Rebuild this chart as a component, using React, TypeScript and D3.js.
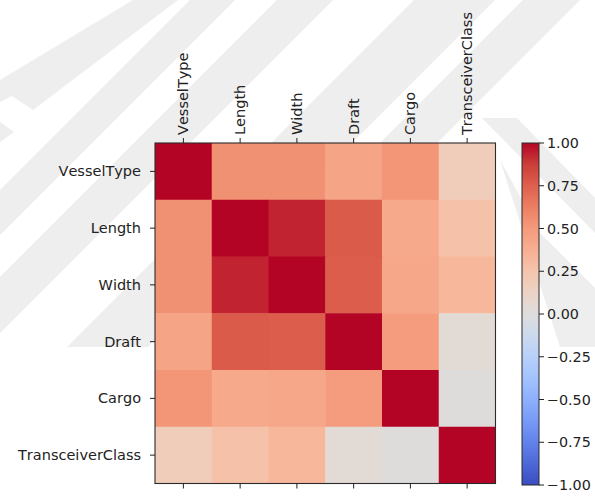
import React from "react";
import * as d3 from "d3";

// Correlation matrix of vessel attributes
const labels = ["VesselType", "Length", "Width", "Draft", "Cargo", "TransceiverClass"];

const rowVesselType = [1.0, 0.54, 0.54, 0.44, 0.52, 0.18];
const rowLength = [0.54, 1.0, 0.93, 0.77, 0.41, 0.27];
const rowWidth = [0.54, 0.93, 1.0, 0.76, 0.42, 0.33];
const rowDraft = [0.44, 0.77, 0.76, 1.0, 0.49, 0.04];
const rowCargo = [0.52, 0.41, 0.42, 0.49, 1.0, 0.01];
const rowTransceiverClass = [0.18, 0.27, 0.33, 0.04, 0.01, 1.0];

const matrix = [rowVesselType, rowLength, rowWidth, rowDraft, rowCargo, rowTransceiverClass];

const colorbarTicks = [1.0, 0.75, 0.5, 0.25, 0.0, -0.25, -0.5, -0.75, -1.0];

// coolwarm colormap anchors (position 0..1 -> rgb)
const coolwarmStops = [0, 0.0625, 0.125, 0.1875, 0.25, 0.3125, 0.375, 0.4375, 0.5, 0.5625, 0.625, 0.6875, 0.75, 0.8125, 0.875, 0.9375, 1];
const coolwarmColors = [
  "rgb(59,76,192)", "rgb(77,104,215)", "rgb(98,130,234)", "rgb(119,154,247)",
  "rgb(141,176,254)", "rgb(163,194,255)", "rgb(184,208,249)", "rgb(204,217,238)",
  "rgb(221,221,221)", "rgb(236,211,197)", "rgb(245,196,173)", "rgb(247,175,145)",
  "rgb(244,154,123)", "rgb(236,127,99)", "rgb(222,96,77)", "rgb(203,62,56)", "rgb(180,4,38)",
];

const W = 595;
const H = 497;

const margin = { left: 155, top: 143 };
const plotSize = 340.5;
const cbar = { x: 522, width: 17, top: 143, bottom: 485 };

const FONT = "'DejaVu Sans', sans-serif";
const FS = 14.5;
const FS_CB = 14.3;

// faint diagonal page stripes behind the figure
const stripes = [
  "M0,80 L133,0 L178,0 L33,110 L12,96 L0,102 Z",
  "M0,122 L14,132 L0,142 Z",
  "M0,190 L190,0 L235,0 L0,235 Z",
  "M0,277 L277,0 L333,0 L0,333 Z",
  "M67,347 L414,0 L495,0 L148,347 Z",
  "M523,0 L580,0 L233,347 L176,347 Z",
  "M482,118 L517,118 L595,198 L595,233 Z",
  "M500,160 L540,233 L595,288 L595,347 L560,347 Z",
];

export default function App() {
  const norm = d3.scaleLinear().domain([-1, 1]).range([0, 1]);
  const cmap = d3
    .scaleLinear<string>()
    .domain(coolwarmStops)
    .range(coolwarmColors)
    .interpolate(d3.interpolateRgb);
  const color = (v: number) => cmap(norm(v));

  const x = d3.scaleBand<string>().domain(labels).range([margin.left, margin.left + plotSize]);
  const y = d3.scaleBand<string>().domain(labels).range([margin.top, margin.top + plotSize]);
  const half = x.bandwidth() / 2;

  const cy = d3.scaleLinear().domain([-1, 1]).range([cbar.bottom, cbar.top]);
  const gradStops = d3.range(0, 1.0001, 0.0625);

  const x0 = margin.left;
  const y0 = margin.top;
  const y1 = margin.top + plotSize;

  const textStyle = { fontKerning: "none" as const };

  return (
    <svg
      width={W}
      height={H}
      style={{ position: "absolute", left: 0, top: 0, background: "#fff" }}
      fontFamily={FONT}
    >
      <defs>
        <linearGradient id="cbgrad" x1="0" y1="1" x2="0" y2="0">
          {gradStops.map((t) => (
            <stop key={t} offset={t} stopColor={cmap(t)} />
          ))}
        </linearGradient>
      </defs>
      <rect x={0} y={0} width={W} height={H} fill="#fff" />
      <g fill="#eeeeee">
        {stripes.map((d, i) => (
          <path key={i} d={d} />
        ))}
      </g>

      {/* heatmap cells */}
      <g>
        {matrix.map((row, i) =>
          row.map((v, j) => (
            <rect
              key={`${i}-${j}`}
              x={x(labels[j])}
              y={y(labels[i])}
              width={x.bandwidth() + 0.5}
              height={y.bandwidth() + 0.5}
              fill={color(v)}
            />
          ))
        )}
      </g>
      <rect x={x0} y={y0} width={plotSize} height={plotSize} fill="none" stroke="#2b2b2b" strokeWidth={1.1} />

      {/* column ticks and labels */}
      <g>
        {labels.map((l) => {
          const cx = (x(l) as number) + half;
          return (
            <g key={l}>
              <line x1={cx} x2={cx} y1={y0} y2={y0 - 5} stroke="#222" strokeWidth={1} />
              <line x1={cx} x2={cx} y1={y1} y2={y1 + 5} stroke="#222" strokeWidth={1} />
              <text
                transform={`translate(${cx},${y0 - 8}) rotate(-90)`}
                textAnchor="start"
                dominantBaseline="central"
                fontSize={FS}
                fill="#222"
                style={textStyle}
              >
                {l}
              </text>
            </g>
          );
        })}
      </g>

      {/* row ticks and labels */}
      <g>
        {labels.map((l) => {
          const cyy = (y(l) as number) + half;
          return (
            <g key={l}>
              <line x1={x0} x2={x0 - 5} y1={cyy} y2={cyy} stroke="#222" strokeWidth={1} />
              <text
                x={x0 - 14}
                y={cyy}
                textAnchor="end"
                dominantBaseline="central"
                fontSize={FS}
                fill="#222"
                style={textStyle}
              >
                {l}
              </text>
            </g>
          );
        })}
      </g>

      {/* colorbar */}
      <rect
        x={cbar.x}
        y={cbar.top}
        width={cbar.width}
        height={cbar.bottom - cbar.top}
        fill="url(#cbgrad)"
        stroke="#2b2b2b"
        strokeWidth={1}
      />
      <g>
        {colorbarTicks.map((t) => (
          <g key={t}>
            <line
              x1={cbar.x + cbar.width}
              x2={cbar.x + cbar.width + 5}
              y1={cy(t)}
              y2={cy(t)}
              stroke="#222"
              strokeWidth={1}
            />
            <text
              x={cbar.x + cbar.width + 8}
              y={cy(t)}
              dominantBaseline="central"
              fontSize={FS_CB}
              fill="#222"
              style={textStyle}
            >
              {d3.format(".2f")(t).replace("-", "\u2212")}
            </text>
          </g>
        ))}
      </g>
    </svg>
  );
}
